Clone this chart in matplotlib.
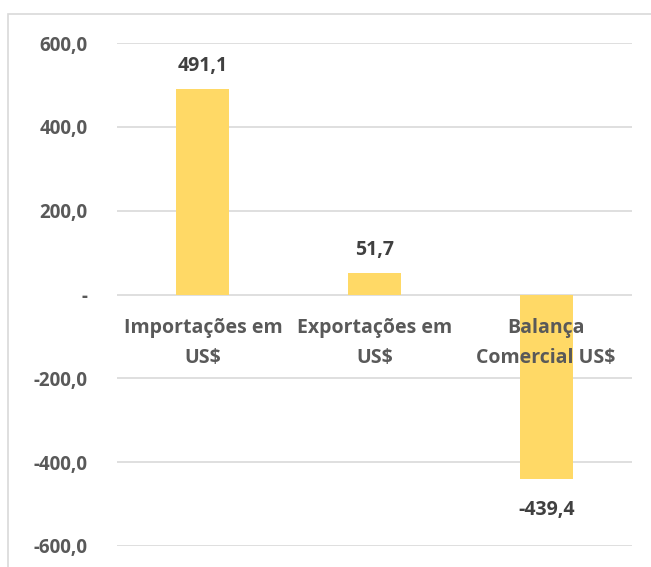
import matplotlib
matplotlib.use("Agg")
import matplotlib.pyplot as plt
from matplotlib.patches import Rectangle

categories = ["Importações em\nUS$", "Exportações em\nUS$", "Balança\nComercial US$"]
values = [491.1, 51.7, -439.4]
value_labels = ["491,1", "51,7", "-439,4"]
yticks = [-600, -400, -200, 0, 200, 400, 600]
ytick_labels = ["-600,0", "-400,0", "-200,0", "-", "200,0", "400,0", "600,0"]

W, H = 651, 567
fig = plt.figure(figsize=(W / 100, H / 100), dpi=100)
plt.rcParams['font.family'] = ['Open Sans', 'DejaVu Sans']
txt = "#595959"
dark = "#404040"
grid = "#D9D9D9"
fs = 14

fig.add_artist(Rectangle((8 / W, -0.1), 1.2, 1 - 14 / H + 0.1, transform=fig.transFigure,
                         fill=False, edgecolor=grid, linewidth=1.2))

ax = fig.add_axes([117 / W, 1 - 546 / H, (632 - 117) / W, (546 - 43) / H])
x = list(range(len(categories)))
ax.bar(x, values, width=0.31, color="#FFD966", zorder=2)
ax.set_xlim(-0.5, 2.5)
ax.set_ylim(-600, 600)
ax.set_yticks(yticks)
ax.set_yticklabels(ytick_labels, fontsize=13.5, fontweight='bold', color=txt)
ax.tick_params(axis='y', length=0, pad=21)
ax.set_xticks([])
for s in ax.spines.values():
    s.set_visible(False)
for t in yticks:
    ax.axhline(t, color=grid, linewidth=1.2, zorder=1)

for xi, v, lab in zip(x, values, value_labels):
    off = 18 if v >= 0 else -36
    ax.annotate(lab, (xi, v), xytext=(0, off), textcoords='offset pixels',
                ha='center', va='baseline', fontsize=fs, fontweight='bold', color=dark)

for xi, c in zip(x, categories):
    for i, line in enumerate(c.split("\n")):
        ax.annotate(line, (xi, 0), xytext=(0, -(38 + 31 * i)), textcoords='offset pixels',
                    ha='center', va='baseline', fontsize=fs, fontweight='bold', color=txt,
                    zorder=3)

fig.savefig("out.png", dpi=100)
